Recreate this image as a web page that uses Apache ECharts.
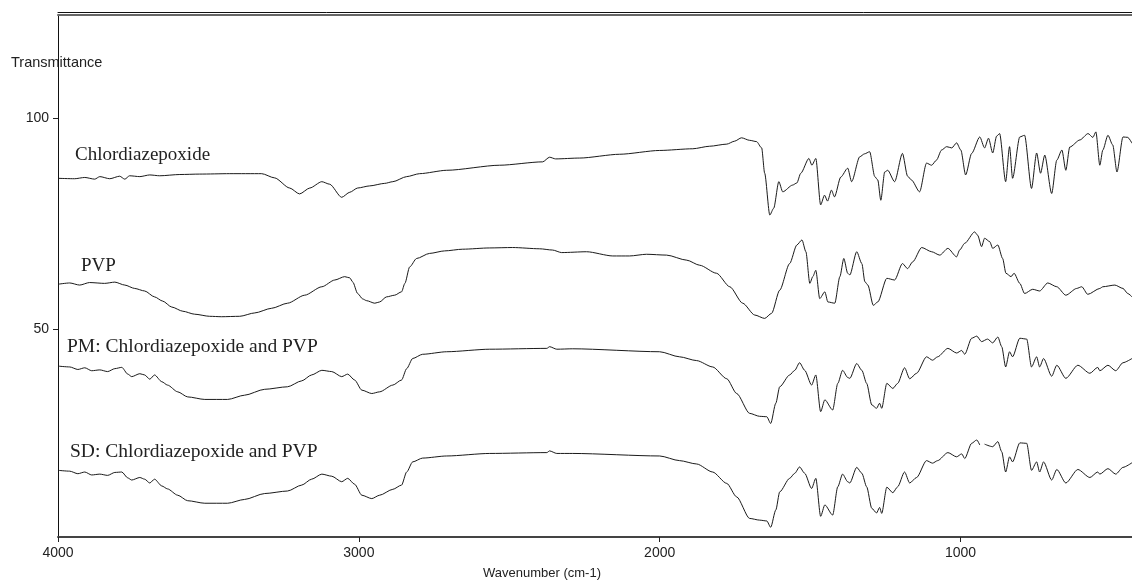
<!DOCTYPE html>
<html><head><meta charset="utf-8">
<script src="https://cdn.jsdelivr.net/npm/echarts@6/dist/echarts.min.js"></script>
<style>html,body{margin:0;padding:0;background:#fff}#c{width:1132px;height:582px}</style>
</head><body><div id="c"></div><script>
const xTickValues = [4000, 3000, 2000, 1000];
const yTickValues = [50, 100];
const seriesNames = ['Chlordiazepoxide', 'PVP', 'PM: Chlordiazepoxide and PVP', 'SD: Chlordiazepoxide and PVP'];

const chlordiazepoxide = [
[4000,85.8],[3945,85.7],[3911,86.0],[3878,85.6],[3861,86.2],[3828,85.7],[3795,86.3],[3778,85.6],[3762,86.4],[3728,86.2],[3695,86.6],[3662,86.4],[3595,86.7],[3529,86.8],[3429,86.9],[3323,86.9],[3280,85.9],[3230,83.5],[3197,82.1],[3163,83.5],[3123,85.0],[3097,84.4],[3057,81.3],[3030,82.5],[3004,83.5],[2964,84.0],[2914,84.6],[2887,85.0],[2841,86.2],[2798,86.9],[2708,87.7],[2532,88.9],[2389,89.7],[2366,90.8],[2346,90.4],[2266,90.6],[2133,91.5],[2000,92.4],[1890,92.8],[1834,93.4],[1777,93.9],[1751,94.6],[1728,95.4],[1701,94.8],[1678,94.5],[1661,93.0],[1651,87.0],[1634,77.1],[1621,78.7],[1604,85.0],[1591,82.6],[1558,84.2],[1544,84.7],[1531,87.0],[1504,90.5],[1494,88.9],[1481,90.5],[1465,79.5],[1452,81.8],[1442,80.4],[1429,83.0],[1419,81.4],[1398,86.1],[1375,88.2],[1362,85.0],[1335,90.9],[1319,91.6],[1302,92.1],[1285,86.2],[1275,85.4],[1265,80.6],[1252,87.3],[1242,87.7],[1219,85.0],[1193,91.7],[1176,86.3],[1163,85.4],[1136,82.6],[1113,89.4],[1096,88.9],[1080,90.1],[1063,92.5],[1046,93.3],[1029,93.0],[1013,94.2],[999,92.5],[983,86.6],[963,91.7],[936,95.6],[920,93.0],[907,95.3],[893,91.8],[880,95.8],[870,96.4],[850,85.0],[837,93.3],[827,85.8],[803,95.6],[787,96.0],[764,83.4],[747,91.8],[734,87.0],[720,91.3],[697,82.2],[680,90.1],[663,92.5],[650,87.7],[637,93.2],[603,94.9],[576,96.4],[560,95.5],[550,96.8],[537,88.9],[527,92.5],[510,96.0],[494,93.7],[480,87.3],[460,95.6],[444,95.5],[430,94.1]
];

const pvp = [
[4000,60.7],[3961,61.0],[3928,60.5],[3895,61.1],[3845,60.9],[3811,61.2],[3778,60.5],[3745,59.7],[3712,59.1],[3679,57.7],[3652,56.7],[3622,55.3],[3585,54.3],[3546,53.6],[3496,53.1],[3456,53.0],[3396,53.1],[3346,53.9],[3290,55.0],[3237,56.2],[3180,58.1],[3123,60.1],[3080,61.7],[3047,62.5],[3030,62.2],[3020,61.2],[3004,58.5],[2987,57.2],[2974,56.8],[2947,56.2],[2931,56.5],[2908,57.7],[2881,58.1],[2858,58.9],[2847,60.9],[2831,64.8],[2808,66.8],[2765,68.0],[2715,68.6],[2655,69.0],[2565,69.3],[2489,69.4],[2399,69.1],[2356,68.8],[2326,68.2],[2243,68.4],[2156,67.4],[2100,67.4],[2044,67.8],[1977,67.6],[1910,66.4],[1867,65.2],[1811,63.3],[1767,60.1],[1724,56.2],[1684,53.4],[1651,52.6],[1628,53.8],[1601,59.3],[1568,65.6],[1544,70.0],[1527,71.2],[1514,68.4],[1501,60.9],[1491,62.5],[1481,64.0],[1468,57.3],[1451,58.9],[1441,56.5],[1418,56.2],[1401,62.5],[1388,66.8],[1375,63.3],[1368,62.9],[1345,68.4],[1328,65.6],[1318,61.3],[1308,60.5],[1290,55.7],[1275,56.5],[1245,62.1],[1219,61.7],[1193,65.6],[1176,64.4],[1159,66.0],[1129,69.4],[1096,68.4],[1069,67.6],[1042,69.2],[1013,67.2],[1003,68.8],[986,70.4],[953,73.1],[943,72.3],[930,69.6],[920,71.6],[903,70.8],[893,69.2],[876,70.0],[860,66.8],[849,63.3],[832,62.5],[822,63.3],[803,60.9],[787,58.5],[760,59.5],[737,59.1],[710,61.0],[680,60.1],[650,58.1],[614,59.7],[597,60.1],[577,58.3],[537,59.7],[527,60.1],[487,60.5],[460,59.7],[444,58.5],[430,57.7]
];

const physicalMixture = [
[4000,41.3],[3961,41.1],[3934,40.5],[3911,40.9],[3888,40.2],[3861,40.4],[3835,40.0],[3811,40.7],[3788,41.0],[3768,39.4],[3755,38.8],[3728,39.5],[3712,39.2],[3695,38.2],[3679,39.2],[3655,37.6],[3636,36.8],[3602,35.2],[3569,34.0],[3512,33.4],[3436,33.4],[3380,34.4],[3313,35.8],[3237,36.4],[3190,37.8],[3157,39.2],[3123,40.3],[3090,40.0],[3057,38.8],[3037,39.4],[3014,38.0],[2990,35.6],[2957,34.8],[2931,35.2],[2887,36.8],[2858,38.0],[2841,40.7],[2821,43.1],[2788,44.1],[2708,44.7],[2565,45.3],[2375,45.5],[2366,45.9],[2342,45.3],[2289,45.4],[2000,44.7],[1934,43.5],[1877,42.6],[1824,41.1],[1777,38.3],[1744,34.8],[1701,30.1],[1668,29.4],[1644,29.3],[1631,27.7],[1614,32.5],[1601,36.4],[1568,39.2],[1551,40.3],[1535,42.1],[1518,40.3],[1495,36.8],[1481,39.2],[1465,30.5],[1451,33.3],[1425,30.9],[1408,37.2],[1392,40.3],[1375,38.6],[1368,38.4],[1345,41.9],[1328,40.3],[1312,37.2],[1295,32.1],[1279,31.3],[1269,32.5],[1262,31.3],[1245,37.2],[1225,36.0],[1209,37.2],[1186,40.9],[1169,38.3],[1146,39.6],[1113,43.5],[1093,42.7],[1076,43.5],[1042,45.5],[1013,44.4],[996,45.0],[986,44.1],[963,47.9],[946,48.4],[930,47.1],[910,47.7],[893,46.8],[876,48.2],[863,45.9],[850,41.1],[837,44.7],[827,43.5],[803,47.9],[780,47.7],[764,41.1],[747,43.5],[737,41.1],[724,43.1],[697,38.9],[680,41.5],[650,38.4],[610,41.5],[570,39.6],[544,41.0],[537,40.2],[510,41.5],[484,40.2],[460,42.1],[430,43.1]
];

const solidDispersion = [
[4000,16.6],[3961,16.4],[3934,15.8],[3911,16.2],[3888,15.5],[3861,15.7],[3835,15.4],[3811,16.1],[3788,16.2],[3768,14.8],[3755,14.3],[3728,14.9],[3712,14.5],[3695,13.6],[3679,14.5],[3655,12.9],[3636,12.2],[3602,10.7],[3569,9.4],[3512,8.8],[3436,8.8],[3380,9.7],[3313,11.1],[3237,11.7],[3190,13.1],[3157,14.5],[3123,15.7],[3090,15.2],[3057,13.9],[3037,14.7],[3014,13.3],[2990,10.7],[2957,9.9],[2931,10.7],[2887,12.1],[2858,13.1],[2841,16.2],[2821,18.6],[2788,19.5],[2708,20.0],[2565,20.6],[2375,20.8],[2366,21.2],[2342,20.6],[2289,20.6],[2000,20.0],[1934,18.9],[1877,18.1],[1824,16.2],[1777,13.5],[1744,10.3],[1701,5.2],[1668,4.8],[1644,4.6],[1631,3.1],[1614,7.2],[1601,11.5],[1568,14.7],[1551,15.9],[1535,17.4],[1518,15.9],[1495,12.3],[1481,14.7],[1465,5.7],[1451,8.4],[1425,6.0],[1408,12.7],[1392,15.7],[1375,13.9],[1368,13.6],[1345,17.3],[1328,15.9],[1312,12.7],[1295,7.6],[1279,6.5],[1269,7.8],[1262,6.4],[1245,12.6],[1225,11.3],[1209,12.7],[1186,16.2],[1169,13.6],[1146,14.9],[1113,18.9],[1093,18.3],[1076,18.9],[1042,20.8],[1013,19.8],[996,20.5],[986,19.4],[963,23.0],[946,23.8],[936,22.6],[928,'-'],[920,22.8],[893,22.2],[876,23.4],[863,21.0],[850,16.2],[837,19.8],[827,18.6],[803,23.1],[780,23.0],[764,16.6],[747,18.6],[737,16.2],[724,18.6],[697,14.3],[680,16.8],[650,13.6],[610,16.8],[570,14.9],[544,16.2],[537,15.7],[510,17.0],[484,15.7],[460,17.3],[430,18.4]
];

const chart = echarts.init(document.getElementById('c'), null, {renderer: 'canvas'});
const lineColor = '#1a1a1a';
function mkSeries(name, data) {
  return {name: name, type: 'line', data: data, showSymbol: false, symbol: 'none',
    smooth: 0.25, smoothMonotone: 'x',
    lineStyle: {color: lineColor, width: 1}, connectNulls: false, silent: true};
}
const serif = '"Liberation Serif", "Times New Roman", serif';
const sans = '"Liberation Sans", Arial, sans-serif';
const plain = function (v) { return String(v); };
const hiddenTop = {type: 'value', position: 'top', inverse: true, min: 430, max: 4000,
  axisTick: {show: false}, axisLabel: {show: false}, splitLine: {show: false}};
chart.setOption({
  animation: false,
  backgroundColor: '#fff',
  grid: {left: 58, right: 0, top: 15, bottom: 45, containLabel: false},
  xAxis: [
    {type: 'value', inverse: true, min: 430, max: 4000,
     axisLine: {onZero: false, lineStyle: {color: '#444', width: 2}},
     axisTick: {show: true, length: 5, customValues: xTickValues, lineStyle: {color: '#222'}},
     axisLabel: {customValues: xTickValues, formatter: plain, fontSize: 14, color: '#222', fontFamily: sans, margin: 9},
     splitLine: {show: false}},
    Object.assign({}, hiddenTop, {axisLine: {show: true, onZero: false, lineStyle: {color: '#666', width: 2}}}),
    Object.assign({}, hiddenTop, {offset: 3, axisLine: {show: true, onZero: false, lineStyle: {color: '#111', width: 1}}})
  ],
  yAxis: {type: 'value', min: 0.8, max: 124.5,
    axisLine: {show: true, onZero: false, lineStyle: {color: '#111', width: 1}},
    axisTick: {show: true, length: 5, customValues: yTickValues, lineStyle: {color: '#222'}},
    axisLabel: {customValues: yTickValues, formatter: plain, fontSize: 14, color: '#222', fontFamily: sans, margin: 9},
    splitLine: {show: false}},
  graphic: [
    {type: 'text', left: 11, top: 55, style: {text: 'Transmittance', font: '14.5px ' + sans, fill: '#222'}},
    {type: 'text', left: 483, top: 567, style: {text: 'Wavenumber (cm-1)', font: '13px ' + sans, fill: '#222'}},
    {type: 'text', left: 75, top: 146, style: {text: seriesNames[0], font: '19px ' + serif, fill: '#222'}},
    {type: 'text', left: 81, top: 257, style: {text: seriesNames[1], font: '19px ' + serif, fill: '#222'}},
    {type: 'text', left: 67, top: 337, style: {text: seriesNames[2], font: '19.5px ' + serif, fill: '#222'}},
    {type: 'text', left: 70, top: 442, style: {text: seriesNames[3], font: '19.5px ' + serif, fill: '#222'}}
  ],
  series: [
    mkSeries(seriesNames[0], chlordiazepoxide),
    mkSeries(seriesNames[1], pvp),
    mkSeries(seriesNames[2], physicalMixture),
    mkSeries(seriesNames[3], solidDispersion)
  ]
});
</script></body></html>
